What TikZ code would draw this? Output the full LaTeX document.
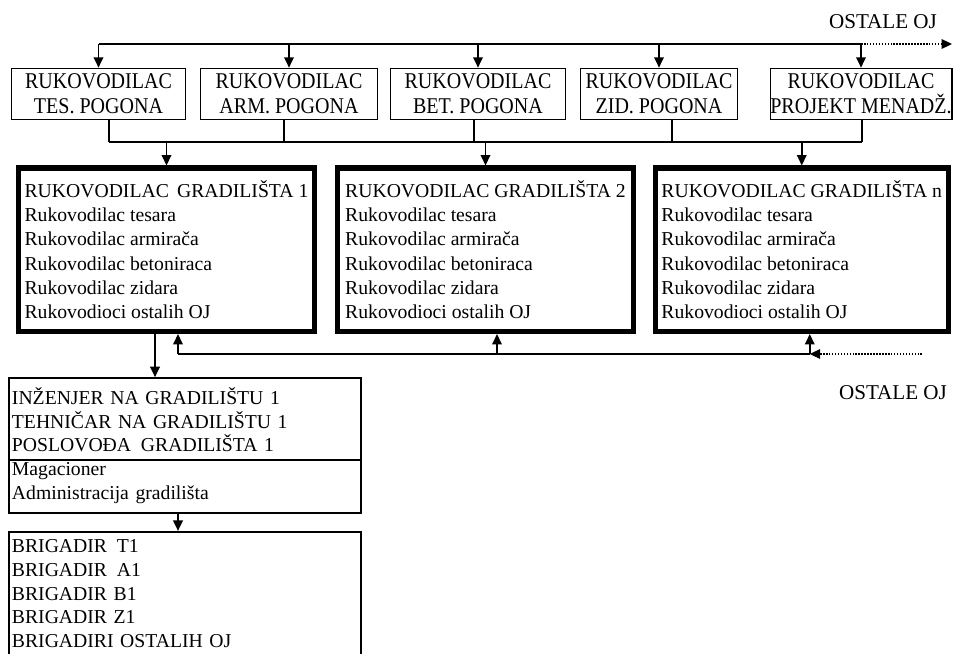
\documentclass[tikz,border=0pt]{standalone}
\usepackage{fontspec}
\setmainfont{Liberation Serif}
\newfontfamily\uskiserif[FakeStretch=0.89]{Liberation Serif}
\usetikzlibrary{arrows.meta,calc}

\tikzset{
  pogon/.style={draw,line width=1.2pt,minimum height=1.275cm,inner sep=0pt,
    align=center,font=\uskiserif\fontsize{16}{17.8}\selectfont},
  gradiliste/.style={draw,line width=3.6pt,minimum height=4.0875cm,inner sep=0pt,
    align=left,font=\fontsize{14}{17.3}\selectfont},
  ekipa/.style={draw,line width=1.2pt,minimum width=8.8cm,text width=8.65cm,
    inner xsep=0.075cm,inner ysep=0.2cm,align=left,font=\fontsize{14}{16.8}\selectfont},
  veza/.style={line width=1.1pt},
  oznaka/.style={font=\fontsize{15}{16}\selectfont},
}

\begin{document}
\begin{tikzpicture}[x=0.025cm,y=-0.025cm,>={Triangle[length=2.6mm,width=2.4mm]}]
        \useasboundingbox (0,0) rectangle (953,653);

        % Rukovodioci pogona
        \node[pogon,minimum width=4.35cm]  (tes) at (98.5,94) {RUKOVODILAC\\TES. POGONA};
        \node[pogon,minimum width=4.425cm] (arm) at (289,94)  {RUKOVODILAC\\ARM. POGONA};
        \node[pogon,minimum width=4.375cm] (bet) at (478,94)  {RUKOVODILAC\\BET. POGONA};
        \node[pogon,minimum width=3.925cm] (zid) at (659,94)  {RUKOVODILAC\\ZID. POGONA};
        \node[pogon,minimum width=4.525cm] (pm)  at (861,94)  {RUKOVODILAC\\PROJEKT MENADŽ.};

        % Rukovodioci gradilista
        \node[gradiliste,minimum width=7.375cm] (g1) at (166.5,249.75)
            {RUKOVODILAC\, GRADILIŠTA 1\\Rukovodilac tesara\\Rukovodilac armirača\\Rukovodilac betoniraca\\Rukovodilac zidara\\Rukovodioci ostalih OJ};
        \node[gradiliste,minimum width=7.4cm] (g2) at (485.5,249.75)
            {RUKOVODILAC GRADILIŠTA 2\\Rukovodilac tesara\\Rukovodilac armirača\\Rukovodilac betoniraca\\Rukovodilac zidara\\Rukovodioci ostalih OJ};
        \node[gradiliste,minimum width=7.3125cm] (gn) at (801.75,249.75)
            {RUKOVODILAC GRADILIŠTA n\\Rukovodilac tesara\\Rukovodilac armirača\\Rukovodilac betoniraca\\Rukovodilac zidara\\Rukovodioci ostalih OJ};

        % Osoblje gradilista 1 i brigadiri
        \node[ekipa,minimum height=3.375cm] (eng) at (185,445.5)
            {INŽENJER NA GRADILIŠTU 1\\TEHNIČAR NA GRADILIŠTU 1\\POSLOVOĐA\, GRADILIŠTA 1\\Magacioner\\Administracija gradilišta};
        \draw[line width=1.2pt] ($(eng.north west)!0.607!(eng.south west)$) -- ($(eng.north east)!0.607!(eng.south east)$);
        \node[ekipa,anchor=north,text depth=3.2cm] (brig) at ($(eng.south)+(0,17)$)
            {BRIGADIR\, T1\\BRIGADIR\, A1\\BRIGADIR B1\\BRIGADIR Z1\\BRIGADIRI OSTALIH OJ};

        % Gornja sabirna linija
        \coordinate (gore) at (0,44);
        \coordinate (ostaleGore) at (952,44);
        \draw[veza] (tes.north |- gore) -- (pm.north |- gore);
        \foreach \n in {tes,arm,bet,zid,pm}
            \draw[veza,->] (\n.north |- gore) -- (\n.north);
        \draw[veza,densely dotted,->] (pm.north |- gore) -- (ostaleGore);
        \node[oznaka] (ostaleGoreTxt) at (883,22) {OSTALE OJ};

        % Veza pogona sa gradilistima
        \coordinate (sredina) at (0,142);
        \foreach \n/\d in {tes/10.5,arm/-5,bet/-4,zid/13,pm/1} {
            \coordinate (\n-izlaz) at ($(\n.south)+(\d,0)$);
            \draw[veza] (\n-izlaz) -- (\n-izlaz |- sredina);
        }
        \draw[veza] (tes-izlaz |- sredina) -- (pm-izlaz |- sredina);
        \foreach \g in {g1,g2,gn}
            \draw[veza,->] (\g.north |- sredina) -- (\g.north);

        % Povratna linija ka gradilistima
        \coordinate (povrat) at (0,354);
        \coordinate (ostaleDole) at (922,354);
        \foreach \g/\d in {g1/11.5,g2/11.5,gn/8} {
            \coordinate (\g-ulaz) at ($(\g.south)+(\d,0)$);
            \draw[veza,->] (\g-ulaz |- povrat) -- (\g-ulaz);
        }
        \draw[veza] (g1-ulaz |- povrat) -- (gn-ulaz |- povrat);
        \draw[veza,densely dotted,->] (ostaleDole) -- (gn-ulaz |- povrat);
        \node[oznaka] (ostaleDoleTxt) at (893,393) {OSTALE OJ};

        % Silazne veze gradiliste 1
        \coordinate (g1-izlaz) at ($(g1.south)+(-11.5,0)$);
        \draw[veza,->] (g1-izlaz) -- (g1-izlaz |- eng.north);
        \coordinate (eng-izlaz) at ($(eng.south)+(-7,0)$);
        \draw[veza,->] (eng-izlaz) -- (eng-izlaz |- brig.north);
    \end{tikzpicture}
\end{document}
